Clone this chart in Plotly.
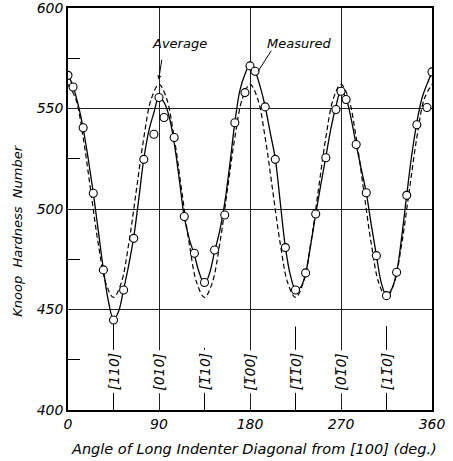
import plotly.graph_objects as go

# Measured data points (angle in degrees, Knoop hardness number)
angles = [0, 5, 15, 25, 35, 45, 55, 65, 75, 85, 90, 95, 105, 115, 125, 135, 145, 155, 165, 175,
          180, 185, 195, 205, 215, 225, 235, 245, 255, 265, 270, 275, 285, 295, 305, 315, 325,
          335, 345, 355, 360]
hardness = [566.5, 560.7, 540.4, 507.8, 469.7, 444.8, 459.7, 485.4, 524.7, 537.2, 555.5, 545.5,
            535.6, 496.3, 478.0, 463.4, 479.6, 497.0, 542.9, 557.9, 571.2, 568.5, 550.8, 524.7,
            480.8, 459.7, 468.2, 497.5, 525.5, 549.5, 558.6, 554.5, 532.1, 508.1, 476.8, 456.9,
            468.5, 506.8, 541.9, 550.5, 568.2]

# Measured (solid) curve, read every 5 degrees
measured_x = list(range(0, 361, 5))
measured_y = [567, 561, 552, 540, 525, 508, 489, 470, 454, 445, 449, 460, 472, 486, 505, 525,
              539, 548, 555.5, 553, 546, 533, 515, 496, 485, 477, 468, 462.5, 468, 479, 489,
              503, 522, 543, 559, 567, 572, 568.5, 561, 551, 538, 525, 503, 481, 467, 460, 461,
              468, 482, 497.5, 512, 526, 540, 551, 559, 555, 545, 532, 520, 508, 492, 477, 463,
              457, 460, 468.5, 486, 507, 527, 543, 555, 562, 568]

# Average (dashed) curve, read every 7.5 degrees
average_x = [i * 7.5 for i in range(49)]
average_y = [562, 555, 535.5, 509, 482.5, 463, 456, 463, 482.5, 509, 535.5, 555,
             562, 555, 535.5, 509, 482.5, 463, 456, 463, 482.5, 509, 535.5, 555,
             562, 555, 535.5, 509, 482.5, 463, 456, 463, 482.5, 509, 535.5, 555,
             562, 555, 535.5, 509, 482.5, 463, 456, 463, 482.5, 509, 535.5, 555, 562]

# Crystallographic direction labels
dir_angles = [45, 90, 135, 180, 225, 270, 315]
dir_labels = ["[110]", "[010]", "[1\u030510]", "[1\u030500]", "[1\u03051\u03050]",
              "[01\u03050]", "[11\u03050]"]
dir_line_tops = [443, None, 431, None, 441.5, None, 441.8]

x_ticks = [0, 90, 180, 270, 360]
y_ticks = [400, 450, 500, 550, 600]
y_minor = [425, 475, 525, 575]

FONT = "DejaVu Sans"

fig = go.Figure()

fig.add_trace(go.Scatter(x=average_x, y=average_y, mode="lines",
                         line=dict(color="black", width=1.2, dash="5px,3px", shape="spline"),
                         showlegend=False, hoverinfo="skip"))
fig.add_trace(go.Scatter(x=measured_x, y=measured_y, mode="lines",
                         line=dict(color="black", width=1.3, shape="spline"),
                         showlegend=False, hoverinfo="skip"))
fig.add_trace(go.Scatter(x=angles, y=hardness, mode="markers",
                         marker=dict(symbol="circle", size=8, color="white",
                                     line=dict(color="black", width=1.1)),
                         showlegend=False))

shapes = []
for a, top in zip(dir_angles, dir_line_tops):
    if top is not None:
        shapes.append(dict(type="line", xref="x", yref="y", x0=a, x1=a, y0=400, y1=top,
                           line=dict(color="black", width=1), layer="below"))

annotations = []
for a, lab in zip(dir_angles, dir_labels):
    annotations.append(dict(x=a, y=419, xref="x", yref="y", text=lab, showarrow=False,
                            textangle=-90, bgcolor="white", borderpad=2,
                            font=dict(family=FONT, size=14, style="italic", color="black")))

annotations.append(dict(x=110, y=582.4, xref="x", yref="y", text="Average", showarrow=False,
                        font=dict(family=FONT, size=13, style="italic", color="black")))
annotations.append(dict(x=229, y=582.4, xref="x", yref="y", text="Measured", showarrow=False,
                        font=dict(family=FONT, size=13, style="italic", color="black")))
annotations.append(dict(x=89.7, y=564.4, ax=93, ay=575, xref="x", yref="y", axref="x", ayref="y",
                        text="", showarrow=True, arrowhead=2, arrowsize=0.8, arrowwidth=1,
                        arrowcolor="black"))
annotations.append(dict(x=188, y=568.5, ax=202, ay=579.5, xref="x", yref="y", axref="x", ayref="y",
                        text="", showarrow=True, arrowhead=0, arrowwidth=1, arrowcolor="black"))

annotations.append(dict(x=-0.141, y=0.445, xref="paper", yref="paper", text="Knoop  Hardness  Number",
                        showarrow=False, textangle=-90, xanchor="center", yanchor="middle",
                        font=dict(family=FONT, size=13, style="italic", color="black")))
annotations.append(dict(x=0.51, y=-0.096, xref="paper", yref="paper",
                        text="Angle of Long Indenter Diagonal from [100] (deg.)",
                        showarrow=False, xanchor="center", yanchor="middle",
                        font=dict(family=FONT, size=14.5, style="italic", color="black")))

fig.update_layout(
    width=453, height=461,
    margin=dict(l=68, r=21, t=8, b=51, autoexpand=False),
    paper_bgcolor="white", plot_bgcolor="white",
    shapes=shapes, annotations=annotations,
    xaxis=dict(range=[0, 360], tickvals=x_ticks, ticktext=[str(v) for v in x_ticks],
               showgrid=True, gridcolor="#222", gridwidth=1, zeroline=False, automargin=False,
               showline=True, linecolor="black", linewidth=1.5, mirror=True, ticks="",
               ticklabeloverflow="allow",
               tickfont=dict(family=FONT, size=14, style="italic", color="black")),
    yaxis=dict(range=[400, 600], tickvals=y_ticks, ticktext=[str(v) for v in y_ticks],
               showgrid=True, gridcolor="#222", gridwidth=1, zeroline=False, automargin=False,
               showline=True, linecolor="black", linewidth=1.5, mirror=True, ticks="",
               ticklabeloverflow="allow",
               minor=dict(tickvals=y_minor, ticks="inside", ticklen=12, tickwidth=1,
                          tickcolor="black", showgrid=False),
               tickfont=dict(family=FONT, size=14, style="italic", color="black")),
)

fig.write_html("out.html", config={"displayModeBar": False},
               post_script="document.body.style.margin='0px';")
